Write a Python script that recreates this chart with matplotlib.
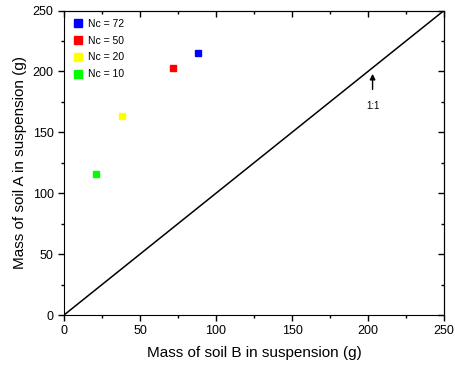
import matplotlib
matplotlib.use("Agg")
import matplotlib.pyplot as plt
from matplotlib.ticker import MultipleLocator

plt.rcParams['font.family'] = ['Liberation Sans', 'DejaVu Sans']

# data
labels = ["Nc = 72", "Nc = 50", "Nc = 20", "Nc = 10"]
colors = ["#0000ff", "#ff0000", "#ffff00", "#00ff00"]
soil_b = [88, 72, 38, 21]
soil_a = [215, 203, 163, 116]
one_to_one = [0, 250]


fig = plt.figure(figsize=(4.56, 3.69), dpi=100)
ax = fig.add_axes([0.1404, 0.1463, 0.8333, 0.8252])

ax.plot(one_to_one, one_to_one, color="black", lw=1.1, zorder=1)
for x, y, c, lab in zip(soil_b, soil_a, colors, labels):
    ax.plot([x], [y], ls="none", marker="s", ms=5, color=c, label=lab, zorder=3)

ax.annotate("1:1", xy=(203, 198), xytext=(203, 172), fontsize=7,
            ha="center", va="center",
            arrowprops=dict(arrowstyle="-|>", color="black", lw=1,
                            mutation_scale=8, shrinkA=6, shrinkB=0))

ax.set_xlim(0, 250)
ax.set_ylim(0, 250)
ax.xaxis.set_major_locator(MultipleLocator(50))
ax.yaxis.set_major_locator(MultipleLocator(50))
ax.xaxis.set_minor_locator(MultipleLocator(25))
ax.yaxis.set_minor_locator(MultipleLocator(25))
ax.tick_params(which="major", direction="out", length=4, width=1, labelsize=9)
ax.tick_params(which="minor", direction="out", length=2.5, width=1)

# mirrored inward ticks on top/right
top = ax.secondary_xaxis("top")
top.xaxis.set_major_locator(MultipleLocator(50))
top.xaxis.set_minor_locator(MultipleLocator(25))
top.tick_params(which="major", direction="in", length=4, width=1, labeltop=False)
top.tick_params(which="minor", direction="in", length=2.5, width=1)
right = ax.secondary_yaxis("right")
right.yaxis.set_major_locator(MultipleLocator(50))
right.yaxis.set_minor_locator(MultipleLocator(25))
right.tick_params(which="major", direction="in", length=4, width=1, labelright=False)
right.tick_params(which="minor", direction="in", length=2.5, width=1)

ax.set_xlabel("Mass of soil B in suspension (g)", fontsize=11, labelpad=6)
ax.set_ylabel("Mass of soil A in suspension (g)", fontsize=11, labelpad=4)

ax.legend(loc="upper left", frameon=False, fontsize=7.5, handletextpad=0.5,
          handlelength=1.0, labelspacing=0.65, borderaxespad=0.4,
          markerscale=1.2)

fig.savefig("out.png", dpi=100)
